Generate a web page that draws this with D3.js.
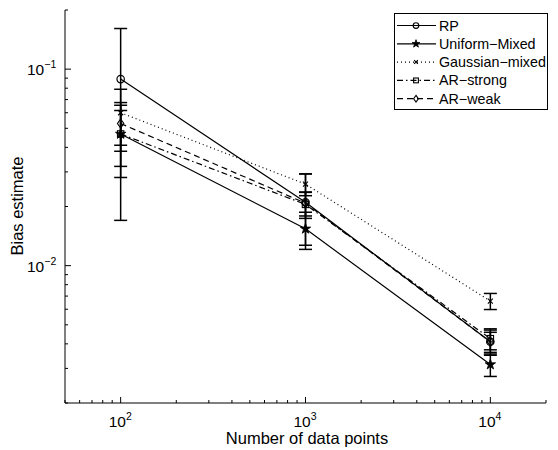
<!DOCTYPE html>
<html>
<head>
<meta charset="utf-8">
<script src="https://cdn.jsdelivr.net/npm/d3@7"></script>
<style>
  html, body { margin: 0; padding: 0; background: #fff; }
  svg { display: block; }
  text { font-family: "Liberation Sans", Arial, Helvetica, sans-serif; fill: #000; }
</style>
</head>
<body>
<svg id="chart" width="558" height="450"></svg>
<script>
// ---- Data ----
const xValues = [100, 1000, 10000];
const seriesNames = ["RP", "Uniform\u2212Mixed", "Gaussian\u2212mixed", "AR\u2212strong", "AR\u2212weak"];
const rpValues = [0.089, 0.021, 0.0041];
const rpErrors = [0.072, 0.0083, 0.0006];
const uniformValues = [0.0468, 0.0154, 0.00314];
const uniformErrors = [0.0187, 0.0033, 0.00041];
const gaussianValues = [0.060, 0.026, 0.0066];
const gaussianErrors = [0.019, 0.0033, 0.00062];
const arStrongValues = [0.0468, 0.0205, 0.00425];
const arStrongErrors = [0.0148, 0.0031, 0.00052];
const arWeakValues = [0.0529, 0.0208, 0.0041];
const arWeakErrors = [0.0147, 0.0029, 0.00048];
const xMajorTicks = [100, 1000, 10000];
const yMajorTicks = [0.01, 0.1];
const xLabel = "Number of data points";
const yLabel = "Bias estimate";

const series = [
  { name: seriesNames[0], values: rpValues, errors: rpErrors, dash: null, marker: "circle" },
  { name: seriesNames[1], values: uniformValues, errors: uniformErrors, dash: null, marker: "star" },
  { name: seriesNames[2], values: gaussianValues, errors: gaussianErrors, dash: "1,3", marker: "x" },
  { name: seriesNames[3], values: arStrongValues, errors: arStrongErrors, dash: "6,3,1.5,3", marker: "square" },
  { name: seriesNames[4], values: arWeakValues, errors: arWeakErrors, dash: "6,4", marker: "diamond" }
];

(function () {
// ---- Layout ----
const svg = d3.select("#chart");
const pLeft = 65, pRight = 546, pTop = 10, pBottom = 403;
const x = d3.scaleLog().domain([50, 20000]).range([pLeft, pRight]);
const y = d3.scaleLog().domain([0.002, 0.2]).range([pBottom, pTop]);

// ---- Axes ----
const axisG = svg.append("g");
axisG.append("line").attr("x1", pLeft).attr("x2", pLeft).attr("y1", pTop).attr("y2", pBottom)
  .attr("stroke", "#000").attr("stroke-width", 1);
axisG.append("line").attr("x1", pLeft).attr("x2", pRight).attr("y1", pBottom).attr("y2", pBottom)
  .attr("stroke", "#000").attr("stroke-width", 1);

const xAllTicks = x.ticks().filter(t => t >= 50 && t <= 20000);
xAllTicks.forEach(t => {
  const major = xMajorTicks.includes(t);
  axisG.append("line").attr("x1", x(t)).attr("x2", x(t))
    .attr("y1", pBottom).attr("y2", pBottom - (major ? 6 : 3))
    .attr("stroke", "#000").attr("stroke-width", 1);
});
const yAllTicks = y.ticks().filter(t => t >= 0.002 && t <= 0.2);
yAllTicks.forEach(t => {
  const major = yMajorTicks.some(m => Math.abs(m - t) < 1e-9);
  axisG.append("line").attr("x1", pLeft).attr("x2", pLeft + (major ? 6 : 3))
    .attr("y1", y(t)).attr("y2", y(t))
    .attr("stroke", "#000").attr("stroke-width", 1);
});

xMajorTicks.forEach(t => {
  const e = Math.round(Math.log10(t));
  const tx = axisG.append("text").attr("x", x(t) - 12).attr("y", 427)
    .attr("text-anchor", "start").attr("font-size", 15.5);
  tx.append("tspan").text("10");
  tx.append("tspan").attr("dy", -7).attr("font-size", 10.5).text(e);
});
yMajorTicks.forEach(t => {
  const e = Math.round(Math.log10(t));
  const tx = axisG.append("text").attr("x", 27).attr("y", y(t) + 6)
    .attr("text-anchor", "start").attr("font-size", 15.5);
  tx.append("tspan").text("10");
  tx.append("tspan").attr("dy", -7).attr("font-size", 10.5).text("\u2212" + Math.abs(e));
});

svg.append("text").attr("x", 307).attr("y", 444)
  .attr("text-anchor", "middle").attr("font-size", 16.5).text(xLabel);
svg.append("text").attr("transform", `translate(23, 206) rotate(-90)`)
  .attr("text-anchor", "middle").attr("font-size", 16.5).text(yLabel);

// ---- Markers ----
function drawMarker(g, type, cx, cy, k) {
  const s = "#000";
  if (type === "circle") {
    g.append("circle").attr("cx", cx).attr("cy", cy).attr("r", 3.7 * k)
      .attr("fill", "none").attr("stroke", s).attr("stroke-width", 1.2);
  } else if (type === "star") {
    g.append("path").attr("d", d3.symbol().type(d3.symbolStar).size(34 * k * k)())
      .attr("transform", `translate(${cx},${cy})`).attr("fill", s).attr("stroke", s).attr("stroke-width", 0.8);
  } else if (type === "x") {
    const r = 2.5 * k;
    g.append("path").attr("d", `M${cx - r},${cy - r}L${cx + r},${cy + r}M${cx - r},${cy + r}L${cx + r},${cy - r}`)
      .attr("stroke", s).attr("stroke-width", 1.1).attr("fill", "none");
  } else if (type === "square") {
    const h = 3.2 * k;
    g.append("rect").attr("x", cx - h).attr("y", cy - h).attr("width", 2 * h).attr("height", 2 * h)
      .attr("fill", "none").attr("stroke", s).attr("stroke-width", 1.1);
  } else if (type === "diamond") {
    const a = 4.5 * k, b = 3.2 * k;
    g.append("path").attr("d", `M${cx},${cy - a}L${cx + b},${cy}L${cx},${cy + a}L${cx - b},${cy}Z`)
      .attr("fill", "none").attr("stroke", s).attr("stroke-width", 1.1);
  }
}

// ---- Series ----
const plotG = svg.append("g");
const line = d3.line().x(d => x(d[0])).y(d => y(d[1]));
series.forEach(sr => {
  const pts = xValues.map((xv, i) => [xv, sr.values[i], sr.errors[i]]);
  pts.forEach(p => {
    const lo = Math.max(p[1] - p[2], 0.002), hi = p[1] + p[2];
    const cx = x(p[0]);
    plotG.append("line").attr("x1", cx).attr("x2", cx).attr("y1", y(lo)).attr("y2", y(hi))
      .attr("stroke", "#000").attr("stroke-width", 1.5);
    [lo, hi].forEach(v => {
      plotG.append("line").attr("x1", cx - 6.5).attr("x2", cx + 6.5).attr("y1", y(v)).attr("y2", y(v))
        .attr("stroke", "#000").attr("stroke-width", 1.5);
    });
  });
  plotG.append("path").datum(pts).attr("d", line)
    .attr("fill", "none").attr("stroke", "#000").attr("stroke-width", 1.2)
    .attr("stroke-dasharray", sr.dash);
  pts.forEach(p => drawMarker(plotG, sr.marker, x(p[0]), y(p[1]), 1));
});

// ---- Legend ----
const lg = svg.append("g");
lg.append("rect").attr("x", 394.5).attr("y", 13.5).attr("width", 153).attr("height", 96)
  .attr("fill", "#fff").attr("stroke", "#000").attr("stroke-width", 1);
series.forEach((sr, i) => {
  const ly = 25.5 + i * 18.3;
  lg.append("line").attr("x1", 397).attr("x2", 436).attr("y1", ly).attr("y2", ly)
    .attr("stroke", "#000").attr("stroke-width", 1.2).attr("stroke-dasharray", sr.dash);
  drawMarker(lg, sr.marker, 416, ly, 0.75);
  lg.append("text").attr("x", 439).attr("y", ly + 5).attr("font-size", 14.3).text(sr.name);
});
})();
</script>
</body>
</html>
